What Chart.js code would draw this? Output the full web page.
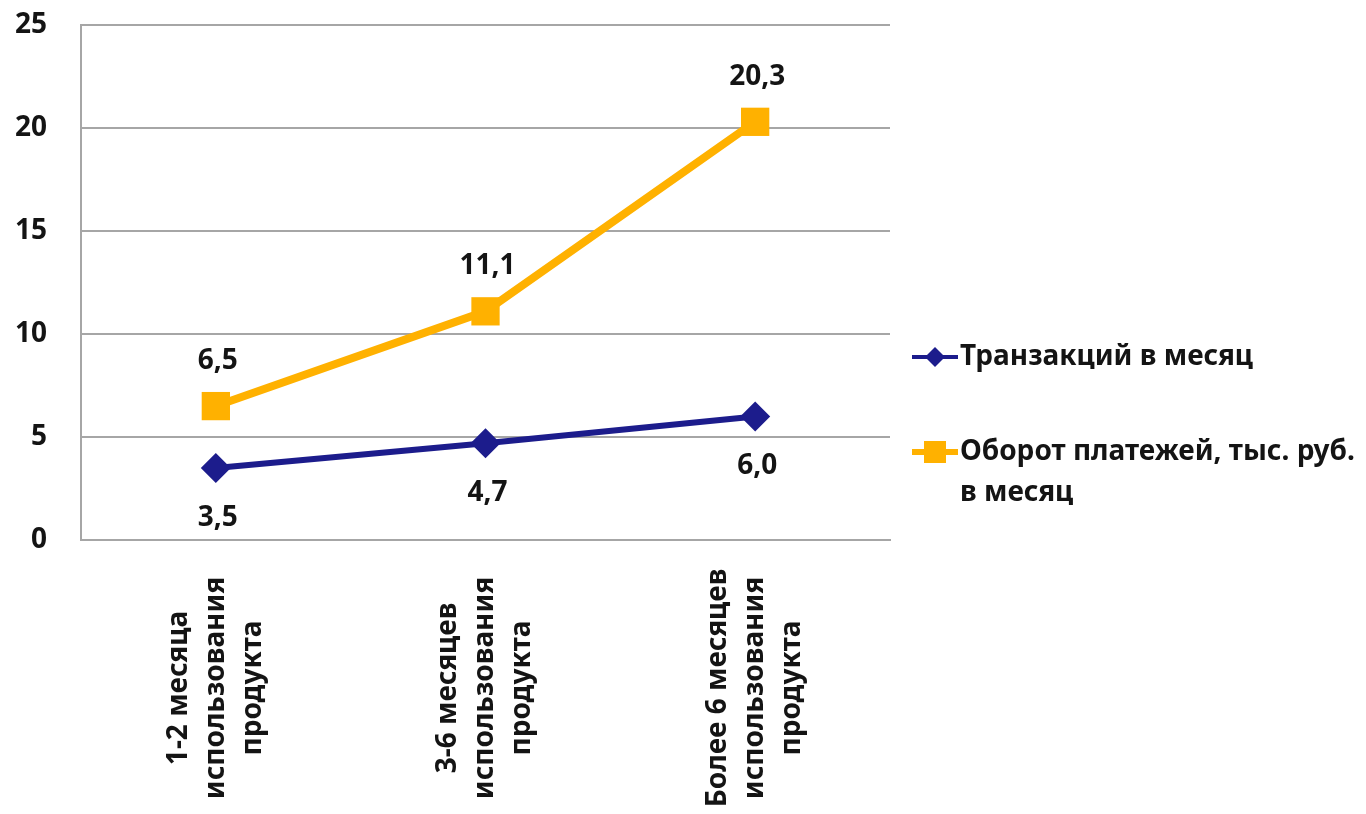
<!DOCTYPE html>
<html>
<head>
<meta charset="utf-8">
<script src="https://cdn.jsdelivr.net/npm/chart.js@4.4.1/dist/chart.umd.min.js"></script>
<style>
  html, body { margin: 0; padding: 0; background: #fff; }
  #wrap { width: 1366px; height: 814px; position: relative; }
</style>
</head>
<body>
<div id="wrap"><canvas id="chart"></canvas></div>
<script>
// === Data ===
const categories = [
  ["1-2 месяца", "использования", "продукта"],
  ["3-6 месяцев", "использования", "продукта"],
  ["Более 6 месяцев", "использования", "продукта"],
];
const transactions = [3.5, 4.7, 6.0];
const turnover = [6.5, 11.1, 20.3];
const seriesNames = ["Транзакций в месяц", ["Оборот платежей, тыс. руб.", "в месяц"]];
const yTicks = [0, 5, 10, 15, 20, 25];

const BLUE = "#1c1c8c";
const ORANGE = "#ffb100";
const FONT = "'Noto Sans', sans-serif";
const TEXT = "#141414";

const fmt = (v) => v.toFixed(1).replace(".", ",");

// === Custom drawing: category labels, value labels, legend ===
const extras = {
  id: "extras",
  afterDatasetsDraw(chart) {
    const { ctx, scales } = chart;
    const x = scales.x;
    const y = scales.y;

    ctx.save();
    ctx.fillStyle = TEXT;
    ctx.font = `bold 28px ${FONT}`;
    ctx.textAlign = "center";
    ctx.textBaseline = "middle";

    // value labels (orange above, blue below)
    turnover.forEach((v, i) => {
      ctx.fillText(fmt(v), x.getPixelForValue(i) + 2, y.getPixelForValue(v) - 45);
    });
    transactions.forEach((v, i) => {
      ctx.fillText(fmt(v), x.getPixelForValue(i) + 2, y.getPixelForValue(v) + 50);
    });

    // rotated category labels
    const lh = 37;
    categories.forEach((lines, i) => {
      ctx.save();
      ctx.translate(x.getPixelForValue(i), 688);
      ctx.rotate(-Math.PI / 2);
      lines.forEach((line, j) => {
        ctx.fillText(line, 0, (j - (lines.length - 1) / 2) * lh);
      });
      ctx.restore();
    });

    // legend
    ctx.textAlign = "left";
    const items = [
      { color: BLUE, style: "diamond", y: 357, lines: [].concat(seriesNames[0]) },
      { color: ORANGE, style: "square", y: 452, lines: [].concat(seriesNames[1]) },
    ];
    items.forEach((it) => {
      ctx.strokeStyle = it.color;
      ctx.fillStyle = it.color;
      ctx.lineWidth = it.style === "square" ? 6 : 4;
      ctx.beginPath();
      ctx.moveTo(912, it.y);
      ctx.lineTo(958, it.y);
      ctx.stroke();
      ctx.beginPath();
      if (it.style === "square") {
        ctx.rect(935 - 11, it.y - 11, 22, 22);
      } else {
        ctx.moveTo(935 - 10, it.y);
        ctx.lineTo(935, it.y - 10);
        ctx.lineTo(935 + 10, it.y);
        ctx.lineTo(935, it.y + 10);
        ctx.closePath();
      }
      ctx.fill();
      ctx.fillStyle = TEXT;
      it.lines.forEach((line, j) => {
        ctx.fillText(line, 960, it.y + j * 41);
      });
    });
    ctx.restore();
  },
};

new Chart(document.getElementById("chart"), {
  type: "line",
  data: {
    labels: categories.map((c) => c.join(" ")),
    datasets: [
      {
        label: [].concat(seriesNames[0]).join(" "),
        data: transactions,
        borderColor: BLUE,
        backgroundColor: BLUE,
        borderWidth: 6,
        pointStyle: "rectRot",
        pointRadius: 15,
        pointBorderWidth: 0,
        tension: 0,
      },
      {
        label: [].concat(seriesNames[1]).join(" "),
        data: turnover,
        borderColor: ORANGE,
        backgroundColor: ORANGE,
        borderWidth: 8,
        pointStyle: "rect",
        pointRadius: 20,
        pointBorderWidth: 0,
        tension: 0,
      },
    ],
  },
  options: {
    responsive: true,
    maintainAspectRatio: false,
    animation: false,
    layout: { padding: { top: 0, right: 476, bottom: 0, left: 0 } },
    plugins: {
      legend: { display: false },
      tooltip: { enabled: false },
    },
    scales: {
      x: {
        offset: true,
        grid: { display: false },
        border: { display: true, color: "#a6a6a6", width: 2 },
        ticks: { display: false },
        afterFit: (s) => { s.height = 274; },
      },
      y: {
        min: 0,
        max: 25,
        afterBuildTicks: (s) => { s.ticks = yTicks.map((v) => ({ value: v })); },
        grid: { color: "#a6a6a6", lineWidth: 2, drawTicks: false },
        border: { display: true, color: "#a6a6a6", width: 2 },
        ticks: {
          padding: 34,
          color: TEXT,
          font: { family: FONT, size: 28, weight: "bold" },
        },
        afterFit: (s) => {
          s.width = 81;
          s.paddingTop = 25;
        },
      },
    },
  },
  plugins: [extras],
});
</script>
</body>
</html>
